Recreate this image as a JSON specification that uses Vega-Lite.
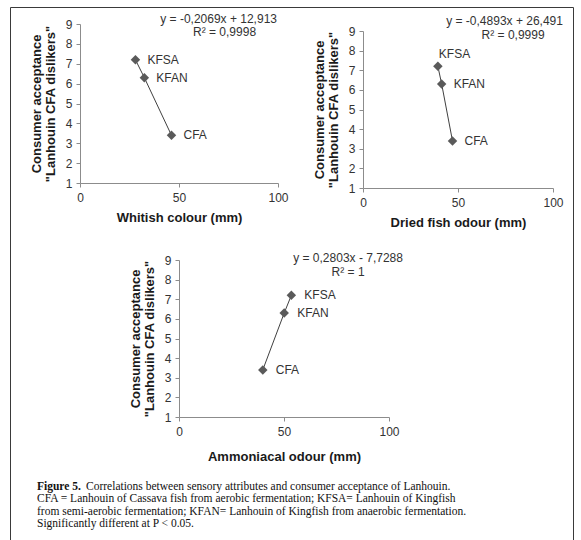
{
  "$schema": "https://vega.github.io/schema/vega-lite/v6.json",
  "width": 563,
  "height": 535,
  "padding": {"left": 10, "top": 7, "right": 8, "bottom": 0},
  "autosize": {"type": "none"},
  "background": "white",
  "config": {
    "font": "Liberation Sans",
    "view": {"stroke": "#3a3a3a", "strokeWidth": 1},
    "axis": {
      "grid": false,
      "domainColor": "#8c8c8c",
      "tickColor": "#8c8c8c",
      "tickSize": 4,
      "labelFont": "Liberation Sans",
      "labelFontSize": 12,
      "labelColor": "#333333",
      "labelPadding": 4,
      "labelFlush": false,
      "format": "d",
      "titleFont": "Liberation Sans",
      "titleFontSize": 13,
      "titleFontWeight": "bold",
      "titleColor": "#1a1a1a"
    }
  },
  "datasets": {
    "samples": [
      {"sample": "KFSA", "acceptance": 7.2, "whitish": 28, "dried": 39.4, "ammoniacal": 53.5},
      {"sample": "KFAN", "acceptance": 6.3, "whitish": 32.5, "dried": 41.4, "ammoniacal": 50.1},
      {"sample": "CFA", "acceptance": 3.4, "whitish": 46.2, "dried": 47.1, "ammoniacal": 39.9}
    ],
    "equations": [
      {"panel": "whitish", "eq": "y = -0,2069x  + 12,913", "r2": "R² = 0,9998"},
      {"panel": "dried", "eq": "y = -0,4893x  + 26,491", "r2": "R² = 0,9999"},
      {"panel": "ammoniacal", "eq": "y = 0,2803x - 7,7288", "r2": "R² = 1"}
    ],
    "caption": [
      {"n": 1, "t": "Correlations between sensory attributes and consumer acceptance of Lanhouin."},
      {"n": 2, "t": "CFA = Lanhouin of Cassava fish from aerobic fermentation; KFSA= Lanhouin of Kingfish"},
      {"n": 3, "t": "from semi-aerobic fermentation; KFAN= Lanhouin of Kingfish from anaerobic fermentation."},
      {"n": 4, "t": "Significantly different at P < 0.05."}
    ]
  },
  "resolve": {
    "scale": {"x": "independent", "y": "independent"},
    "axis": {"x": "independent", "y": "independent"}
  },
  "layer": [
    {
      "layer": [
        {"data": {"name": "samples"}, "mark": {"type": "line", "color": "#404040", "strokeWidth": 1},
          "encoding": {
            "x": {"field": "whitish", "type": "quantitative",
              "scale": {"domain": [0, 100], "range": [70, 268]},
              "axis": {"orient": "bottom", "offset": -359, "values": [0, 50, 100], "format": "d", "title": "Whitish colour (mm)", "labelPadding": 5, "titlePadding": 8}},
            "y": {"field": "acceptance", "type": "quantitative",
              "scale": {"domain": [1, 9], "range": [176, 17]},
              "axis": {"orient": "left", "offset": -70, "values": [1, 2, 3, 4, 5, 6, 7, 8, 9], "format": "d", "title": ["Consumer acceptance", "\"Lanhouin CFA dislikers\""], "titlePadding": 8, "titleLineHeight": 14}}
          }},
        {"data": {"name": "samples"}, "mark": {"type": "point", "shape": "diamond", "filled": true, "size": 90, "color": "#5a5a5a", "opacity": 1},
          "encoding": {"x": {"field": "whitish", "type": "quantitative"}, "y": {"field": "acceptance", "type": "quantitative"}}},
        {"data": {"name": "samples"}, "mark": {"type": "text", "align": "left", "baseline": "middle", "dx": 12, "fontSize": 12, "color": "#333333"},
          "encoding": {"x": {"field": "whitish", "type": "quantitative"}, "y": {"field": "acceptance", "type": "quantitative"}, "text": {"field": "sample", "type": "nominal"}}},
        {"data": {"name": "equations"}, "transform": [{"filter": "datum.panel == 'whitish'"}],
          "mark": {"type": "text", "align": "center", "baseline": "middle", "fontSize": 12, "color": "#333333"},
          "encoding": {"x": {"datum": 70, "type": "quantitative"}, "y": {"datum": 9.25, "type": "quantitative"}, "text": {"field": "eq", "type": "nominal"}}},
        {"data": {"name": "equations"}, "transform": [{"filter": "datum.panel == 'whitish'"}],
          "mark": {"type": "text", "align": "center", "baseline": "middle", "fontSize": 12, "color": "#333333"},
          "encoding": {"x": {"datum": 73, "type": "quantitative"}, "y": {"datum": 8.6, "type": "quantitative"}, "text": {"field": "r2", "type": "nominal"}}}
      ]
    },
    {
      "layer": [
        {"data": {"name": "samples"}, "mark": {"type": "line", "color": "#404040", "strokeWidth": 1},
          "encoding": {
            "x": {"field": "dried", "type": "quantitative",
              "scale": {"domain": [0, 100], "range": [353, 543]},
              "axis": {"orient": "bottom", "offset": -354, "values": [0, 50, 100], "format": "d", "title": "Dried fish odour (mm)", "labelPadding": 5, "titlePadding": 8}},
            "y": {"field": "acceptance", "type": "quantitative",
              "scale": {"domain": [1, 9], "range": [181, 24]},
              "axis": {"orient": "left", "offset": -353, "values": [1, 2, 3, 4, 5, 6, 7, 8, 9], "format": "d", "title": ["Consumer acceptance", "\"Lanhouin CFA dislikers\""], "titlePadding": 8, "titleLineHeight": 14}}
          }},
        {"data": {"name": "samples"}, "mark": {"type": "point", "shape": "diamond", "filled": true, "size": 90, "color": "#5a5a5a", "opacity": 1},
          "encoding": {"x": {"field": "dried", "type": "quantitative"}, "y": {"field": "acceptance", "type": "quantitative"}}},
        {"data": {"name": "samples"}, "transform": [{"filter": "datum.sample != 'KFSA'"}],
          "mark": {"type": "text", "align": "left", "baseline": "middle", "dx": 12, "fontSize": 12, "color": "#333333"},
          "encoding": {"x": {"field": "dried", "type": "quantitative"}, "y": {"field": "acceptance", "type": "quantitative"}, "text": {"field": "sample", "type": "nominal"}}},
        {"data": {"name": "samples"}, "transform": [{"filter": "datum.sample == 'KFSA'"}],
          "mark": {"type": "text", "align": "left", "baseline": "middle", "dx": 1, "dy": -12, "fontSize": 12, "color": "#333333"},
          "encoding": {"x": {"field": "dried", "type": "quantitative"}, "y": {"field": "acceptance", "type": "quantitative"}, "text": {"field": "sample", "type": "nominal"}}},
        {"data": {"name": "equations"}, "transform": [{"filter": "datum.panel == 'dried'"}],
          "mark": {"type": "text", "align": "center", "baseline": "middle", "fontSize": 12, "color": "#333333"},
          "encoding": {"x": {"datum": 74.5, "type": "quantitative"}, "y": {"datum": 9.5, "type": "quantitative"}, "text": {"field": "eq", "type": "nominal"}}},
        {"data": {"name": "equations"}, "transform": [{"filter": "datum.panel == 'dried'"}],
          "mark": {"type": "text", "align": "center", "baseline": "middle", "fontSize": 12, "color": "#333333"},
          "encoding": {"x": {"datum": 79, "type": "quantitative"}, "y": {"datum": 8.8, "type": "quantitative"}, "text": {"field": "r2", "type": "nominal"}}}
      ]
    },
    {
      "layer": [
        {"data": {"name": "samples"}, "mark": {"type": "line", "color": "#404040", "strokeWidth": 1},
          "encoding": {
            "x": {"field": "ammoniacal", "type": "quantitative",
              "scale": {"domain": [0, 100], "range": [169, 379]},
              "axis": {"orient": "bottom", "offset": -125, "values": [0, 50, 100], "format": "d", "title": "Ammoniacal odour (mm)", "labelPadding": 5, "titlePadding": 13}},
            "y": {"field": "acceptance", "type": "quantitative",
              "scale": {"domain": [1, 9], "range": [410, 253]},
              "axis": {"orient": "left", "offset": -169, "values": [1, 2, 3, 4, 5, 6, 7, 8, 9], "format": "d", "title": ["Consumer acceptance", "\"Lanhouin CFA dislikers\""], "titlePadding": 8, "titleLineHeight": 14}}
          }},
        {"data": {"name": "samples"}, "mark": {"type": "point", "shape": "diamond", "filled": true, "size": 90, "color": "#5a5a5a", "opacity": 1},
          "encoding": {"x": {"field": "ammoniacal", "type": "quantitative"}, "y": {"field": "acceptance", "type": "quantitative"}}},
        {"data": {"name": "samples"}, "mark": {"type": "text", "align": "left", "baseline": "middle", "dx": 13, "fontSize": 12, "color": "#333333"},
          "encoding": {"x": {"field": "ammoniacal", "type": "quantitative"}, "y": {"field": "acceptance", "type": "quantitative"}, "text": {"field": "sample", "type": "nominal"}}},
        {"data": {"name": "equations"}, "transform": [{"filter": "datum.panel == 'ammoniacal'"}],
          "mark": {"type": "text", "align": "center", "baseline": "middle", "fontSize": 12, "color": "#333333"},
          "encoding": {"x": {"datum": 80.5, "type": "quantitative"}, "y": {"datum": 9.1, "type": "quantitative"}, "text": {"field": "eq", "type": "nominal"}}},
        {"data": {"name": "equations"}, "transform": [{"filter": "datum.panel == 'ammoniacal'"}],
          "mark": {"type": "text", "align": "center", "baseline": "middle", "fontSize": 12, "color": "#333333"},
          "encoding": {"x": {"datum": 80.5, "type": "quantitative"}, "y": {"datum": 8.4, "type": "quantitative"}, "text": {"field": "r2", "type": "nominal"}}}
      ]
    },
    {
      "data": {"name": "caption"},
      "layer": [
        {"transform": [{"filter": "datum.n == 1"}],
          "mark": {"type": "text", "align": "left", "baseline": "middle", "font": "Liberation Serif", "fontSize": 11.5, "fontWeight": "bold", "color": "#111111", "text": "Figure 5."},
          "encoding": {
            "y": {"field": "n", "type": "quantitative", "scale": {"domain": [1, 4], "range": [480, 517]}, "axis": null},
            "x": {"datum": 0, "type": "quantitative", "scale": {"domain": [0, 1], "range": [27, 563]}, "axis": null}
          }},
        {"transform": [{"filter": "datum.n == 1"}],
          "mark": {"type": "text", "align": "left", "baseline": "middle", "dx": 49, "font": "Liberation Serif", "fontSize": 11.5, "color": "#111111"},
          "encoding": {
            "y": {"field": "n", "type": "quantitative"},
            "x": {"datum": 0, "type": "quantitative"},
            "text": {"field": "t", "type": "nominal"}}},
        {"transform": [{"filter": "datum.n > 1"}],
          "mark": {"type": "text", "align": "left", "baseline": "middle", "font": "Liberation Serif", "fontSize": 11.5, "color": "#111111"},
          "encoding": {
            "y": {"field": "n", "type": "quantitative"},
            "x": {"datum": 0, "type": "quantitative"},
            "text": {"field": "t", "type": "nominal"}}}
      ]
    }
  ]
}
